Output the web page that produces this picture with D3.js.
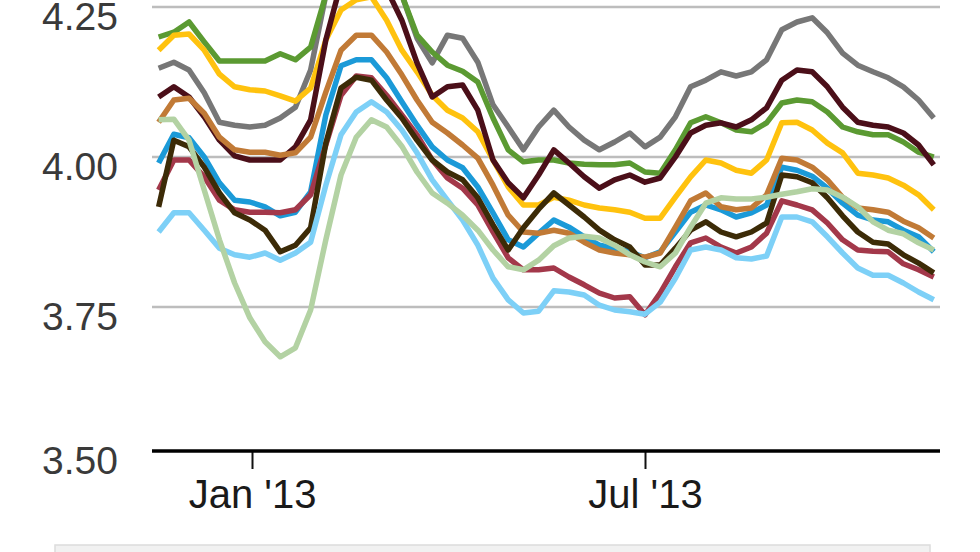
<!DOCTYPE html>
<html>
<head>
<meta charset="utf-8">
<script src="https://cdn.jsdelivr.net/npm/d3@7/dist/d3.min.js"></script>
<style>
  html, body { margin: 0; padding: 0; background: #fff; }
  svg { display: block; }
  text { font-family: "Liberation Sans", Arial, Helvetica, sans-serif; }
</style>
</head>
<body>
<svg id="chart" width="980" height="552"></svg>
<script>
// ---- data (weekly) ----
const dates = ["2012-11-19","2012-11-26","2012-12-03","2012-12-10","2012-12-17","2012-12-24","2012-12-31",
"2013-01-07","2013-01-14","2013-01-21","2013-01-28","2013-02-04","2013-02-11","2013-02-18","2013-02-25",
"2013-03-04","2013-03-11","2013-03-18","2013-03-25","2013-04-01","2013-04-08","2013-04-15","2013-04-22","2013-04-29",
"2013-05-06","2013-05-13","2013-05-20","2013-05-27","2013-06-03","2013-06-10","2013-06-17","2013-06-24",
"2013-07-01","2013-07-08","2013-07-15","2013-07-22","2013-07-29","2013-08-05","2013-08-12","2013-08-19","2013-08-26",
"2013-09-02","2013-09-09","2013-09-16","2013-09-23","2013-09-30","2013-10-07","2013-10-14","2013-10-21","2013-10-28",
"2013-11-04","2013-11-11"];

const seriesGrey = [4.148,4.158,4.145,4.107,4.058,4.053,4.050,4.053,4.065,4.083,4.145,4.27,4.36,4.40,4.41,4.37,4.27,4.198,4.157,4.203,4.198,4.158,4.087,4.050,4.012,4.050,4.078,4.050,4.028,4.012,4.025,4.040,4.017,4.033,4.067,4.117,4.128,4.142,4.135,4.142,4.162,4.212,4.225,4.232,4.207,4.173,4.153,4.142,4.132,4.117,4.095,4.065];
const seriesGreen = [4.200,4.208,4.225,4.192,4.160,4.160,4.160,4.160,4.172,4.162,4.183,4.27,4.32,4.33,4.33,4.31,4.27,4.203,4.175,4.153,4.143,4.125,4.065,4.012,3.992,3.995,3.995,3.990,3.988,3.987,3.987,3.990,3.975,3.973,4.012,4.057,4.067,4.057,4.045,4.042,4.057,4.090,4.095,4.092,4.075,4.050,4.042,4.037,4.037,4.025,4.008,4.000];
const seriesYellow = [4.178,4.203,4.205,4.178,4.138,4.117,4.112,4.110,4.102,4.093,4.115,4.195,4.245,4.262,4.267,4.228,4.178,4.142,4.103,4.078,4.065,4.042,3.995,3.950,3.920,3.920,3.933,3.928,3.920,3.915,3.912,3.908,3.898,3.898,3.933,3.967,3.995,3.990,3.978,3.973,3.995,4.057,4.058,4.045,4.023,4.007,3.973,3.970,3.965,3.953,3.937,3.912];
const seriesMaroon = [4.100,4.117,4.100,4.067,4.028,4.002,3.995,3.995,3.995,4.017,4.062,4.195,4.29,4.32,4.32,4.28,4.228,4.157,4.100,4.117,4.120,4.078,3.995,3.957,3.932,3.970,4.012,3.990,3.967,3.948,3.962,3.970,3.958,3.965,4.000,4.040,4.053,4.057,4.050,4.062,4.082,4.128,4.145,4.142,4.117,4.083,4.058,4.053,4.050,4.040,4.020,3.987];
const seriesBlue = [3.990,4.038,4.032,4.000,3.957,3.928,3.925,3.917,3.902,3.908,3.942,4.070,4.152,4.162,4.162,4.132,4.092,4.053,4.017,3.995,3.982,3.950,3.907,3.862,3.850,3.873,3.895,3.883,3.867,3.853,3.848,3.842,3.832,3.842,3.875,3.908,3.920,3.912,3.900,3.907,3.920,3.983,3.978,3.968,3.948,3.923,3.903,3.895,3.892,3.878,3.867,3.842];
const seriesOrange = [4.058,4.095,4.098,4.073,4.033,4.012,4.008,4.008,4.003,4.007,4.033,4.108,4.178,4.203,4.203,4.175,4.137,4.095,4.058,4.040,4.020,3.998,3.953,3.903,3.875,3.873,3.878,3.873,3.858,3.845,3.840,3.837,3.833,3.840,3.883,3.927,3.940,3.917,3.912,3.915,3.937,3.998,3.995,3.983,3.962,3.933,3.915,3.912,3.908,3.893,3.882,3.865];
const seriesRed = [3.945,3.995,3.995,3.967,3.928,3.912,3.908,3.908,3.907,3.912,3.937,4.020,4.103,4.135,4.132,4.103,4.070,4.037,3.995,3.965,3.948,3.920,3.875,3.832,3.812,3.812,3.815,3.800,3.787,3.773,3.765,3.767,3.737,3.773,3.817,3.857,3.865,3.850,3.840,3.850,3.873,3.927,3.920,3.912,3.890,3.862,3.845,3.843,3.842,3.822,3.812,3.800];
const seriesOlive = [3.917,4.028,4.017,3.983,3.940,3.907,3.895,3.878,3.842,3.853,3.882,4.023,4.115,4.133,4.128,4.095,4.065,4.028,3.995,3.975,3.962,3.932,3.887,3.845,3.882,3.913,3.940,3.920,3.900,3.878,3.862,3.850,3.820,3.820,3.848,3.878,3.892,3.875,3.867,3.875,3.890,3.970,3.967,3.957,3.932,3.902,3.875,3.858,3.855,3.837,3.823,3.807];
const seriesLightBlue = [3.875,3.907,3.907,3.878,3.848,3.837,3.833,3.840,3.828,3.840,3.858,3.953,4.037,4.075,4.092,4.075,4.045,4.007,3.962,3.928,3.895,3.853,3.798,3.762,3.740,3.743,3.777,3.775,3.770,3.753,3.745,3.742,3.738,3.758,3.798,3.845,3.850,3.845,3.832,3.830,3.835,3.900,3.900,3.892,3.867,3.840,3.815,3.803,3.803,3.790,3.775,3.762];
const seriesLightGreen = [4.062,4.063,4.028,3.945,3.862,3.790,3.732,3.692,3.667,3.682,3.745,3.862,3.970,4.033,4.062,4.050,4.018,3.975,3.940,3.923,3.903,3.878,3.845,3.817,3.812,3.828,3.852,3.865,3.868,3.865,3.853,3.837,3.825,3.817,3.840,3.883,3.923,3.932,3.930,3.930,3.933,3.938,3.942,3.947,3.945,3.933,3.917,3.892,3.878,3.872,3.857,3.845];

const seriesNames = ["Series 1","Series 2","Series 3","Series 4","Series 5","Series 6","Series 7","Series 8","Series 9","Series 10"];
const seriesColors = ["#777777","#5b9a32","#ffc20e","#4b0f19","#1b9ad8","#c17a36","#a3384a","#3c2b07","#7dd0f7","#b3d2a3"];
const seriesValues = [seriesGrey, seriesGreen, seriesYellow, seriesMaroon, seriesBlue, seriesOrange, seriesRed, seriesOlive, seriesLightBlue, seriesLightGreen];

const yTicks = [3.50, 3.75, 4.00, 4.25];
const xTicks = ["2013-01-01", "2013-07-01"];

// ---- layout ----
const W = 980, H = 552;
const plotLeft = 152, plotRight = 940;
const axisY = 451;

const parse = d3.timeParse("%Y-%m-%d");
const xDates = dates.map(parse);

const x = d3.scaleTime()
  .domain([parse("2013-01-01"), parse("2013-07-01")])
  .range([252, 645]);
const y = d3.scaleLinear().domain([3.5, 4.25]).range([457, 7]);

const svg = d3.select("#chart");

// grid lines
svg.append("g").selectAll("line")
  .data(yTicks.filter(t => t > 3.5))
  .join("line")
  .attr("x1", plotLeft).attr("x2", plotRight)
  .attr("y1", d => y(d)).attr("y2", d => y(d))
  .attr("stroke", "#bdbdbd").attr("stroke-width", 2.5);

// y labels
svg.append("g").selectAll("text")
  .data(yTicks)
  .join("text")
  .attr("x", 118)
  .attr("y", d => (d === 3.5 ? axisY : y(d)) + 9)
  .attr("dy", "0.35em")
  .attr("text-anchor", "end")
  .attr("font-size", 39)
  .attr("fill", "#3a3a3a")
  .text(d => d3.format(".2f")(d));

// lines
const line = d3.line()
  .x((d, i) => x(xDates[i]))
  .y(d => y(d))
  .curve(d3.curveLinear);

svg.append("g").selectAll("path")
  .data(seriesValues.map((v, k) => ({ name: seriesNames[k], color: seriesColors[k], values: v })))
  .join("path")
  .attr("d", d => line(d.values))
  .attr("fill", "none")
  .attr("stroke", d => d.color)
  .attr("stroke-width", 5.5)
  .attr("stroke-linejoin", "round")
  .attr("stroke-linecap", "butt");

// x axis
const xAxis = d3.axisBottom(x)
  .tickValues(xTicks.map(parse))
  .tickFormat(d3.timeFormat("%b '%y"))
  .tickSize(18)
  .tickPadding(11);

const gx = svg.append("g").attr("transform", `translate(0,${axisY})`).call(xAxis);
gx.select(".domain").remove();
gx.selectAll(".tick line").attr("stroke", "#111").attr("stroke-width", 2);
gx.selectAll(".tick text").attr("font-size", 40).attr("fill", "#1a1a1a")
  .attr("font-family", "'Liberation Sans', Arial, sans-serif");
gx.append("line")
  .attr("x1", plotLeft).attr("x2", plotRight)
  .attr("y1", 0).attr("y2", 0)
  .attr("stroke", "#000").attr("stroke-width", 3.5);

// bottom grey panel
svg.append("rect")
  .attr("x", 55).attr("y", 545).attr("width", 875).attr("height", 20)
  .attr("fill", "#f1f1f1").attr("stroke", "#dcdcdc").attr("stroke-width", 1.5);
</script>
</body>
</html>
